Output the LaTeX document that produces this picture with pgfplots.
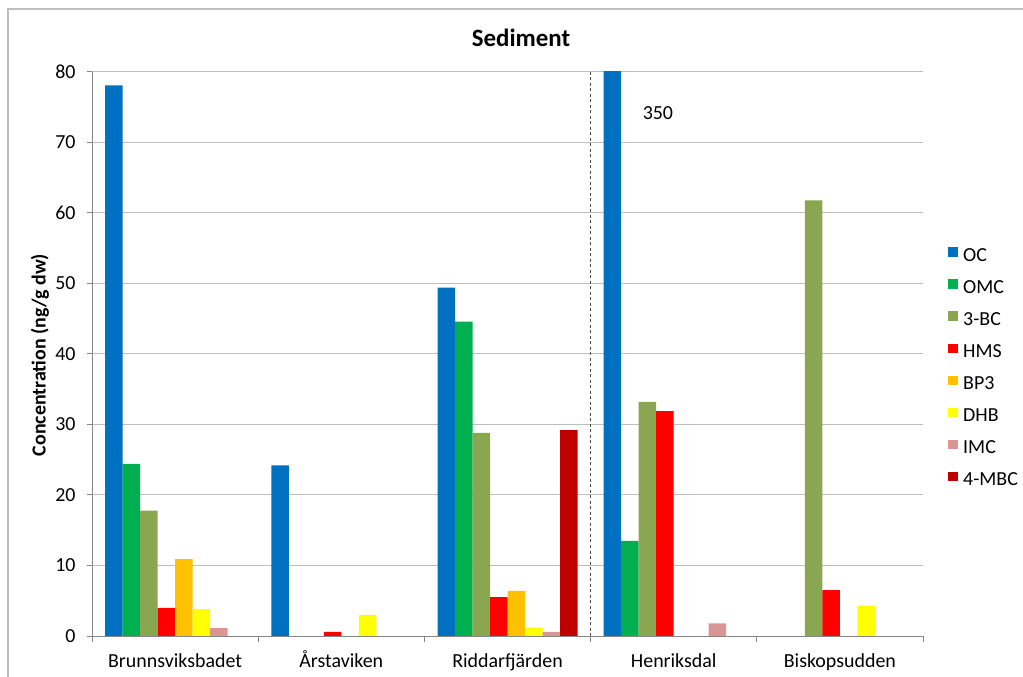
\documentclass[border=0pt]{standalone}
\usepackage{fontspec}
\setmainfont{Carlito}
\usepackage{pgfplots}
\usepackage{pgfplotstable}
\pgfplotsset{compat=1.18}

\definecolor{cOC}{HTML}{0070C0}
\definecolor{cOMC}{HTML}{00B050}
\definecolor{cBC}{HTML}{8BA650}
\definecolor{cHMS}{HTML}{FF0000}
\definecolor{cBP}{HTML}{FFC000}
\definecolor{cDHB}{HTML}{FFFF00}
\definecolor{cIMC}{HTML}{D99694}
\definecolor{cMBC}{HTML}{C00000}
\definecolor{gridc}{HTML}{BEBEBE}
\definecolor{axisc}{HTML}{868686}

% concentrations (ng/g dw) per site; 0 = not detected
\pgfplotstableread{
x OC OMC BC HMS BP DHB IMC MBC
0 78.1 24.4 17.8 4.0 10.9 3.8 1.1 0
1 24.2 0 0 0.6 0 3.0 0 0
2 49.4 44.6 28.8 5.5 6.4 1.2 0.6 29.2
3 350 13.5 33.2 31.9 0 0 1.8 0
4 0 0 61.8 6.5 0 4.3 0 0
}\sediment

\begin{document}
\begin{tikzpicture}
\path[use as bounding box] (0bp,0bp) rectangle (1023bp,677bp);
% chart frame
\draw[gridc, line width=1.2bp] (8bp,0bp) -- (8bp,668bp) -- (1023bp,668bp);
\node[font=\fontsize{25}{28}\selectfont\bfseries] at (521bp,639bp) {Sediment};
\node[rotate=90, font=\fontsize{20}{24}\selectfont\bfseries] at (40bp,322bp) {Concentration (ng/g dw)};
\begin{axis}[
  at={(92bp,41bp)}, anchor=south west,
  scale only axis, width=831bp, height=564bp,
  ybar=0pt, bar width=17.5bp,
  xmin=-0.5, xmax=4.5, ymin=0, ymax=80,
  ytick={0,10,...,80},
  xtick={0,...,4},
  xticklabels={Brunnsviksbadet, Årstaviken, Riddarfjärden, Henriksdal, Biskopsudden},
  minor xtick={-0.5,0.5,...,4.5},
  axis x line*=bottom, axis y line*=left,
  axis line style={axisc, line width=1bp},
  x axis line style={-}, y axis line style={-},
  ymajorgrids, grid style={gridc, line width=1bp},
  major x tick style={draw=none},
  minor x tick style={axisc, line width=1bp},
  major y tick style={axisc, line width=1bp},
  tick align=outside,
  major tick length=5bp, minor tick length=6bp,
  /pgf/number format/assume math mode=true,
  ticklabel style={font=\fontsize{20}{24}\selectfont},
  xticklabel style={yshift=-11bp, text height=12bp, text depth=4bp},
  yticklabel style={xshift=-8bp},
  legend style={at={(1.0301,0.6897)}, anchor=north west, draw=none, fill=none,
    inner sep=0pt, row sep=13.1bp, column sep=5.5bp,
    font=\fontsize{20}{24}\selectfont,
    nodes={inner sep=0pt, text height=14bp, text depth=5bp}},
  legend cell align=left,
  legend image code/.code={\fill[#1, draw=none] (0bp,0bp) rectangle (9.5bp,9.5bp);},
  clip=true,
]
\addplot[fill=cOC, draw=none] table[x=x, y=OC] {\sediment};
\addplot[fill=cOMC, draw=none] table[x=x, y=OMC] {\sediment};
\addplot[fill=cBC, draw=none] table[x=x, y=BC] {\sediment};
\addplot[fill=cHMS, draw=none] table[x=x, y=HMS] {\sediment};
\addplot[fill=cBP, draw=none] table[x=x, y=BP] {\sediment};
\addplot[fill=cDHB, draw=none] table[x=x, y=DHB] {\sediment};
\addplot[fill=cIMC, draw=none] table[x=x, y=IMC] {\sediment};
\addplot[fill=cMBC, draw=none] table[x=x, y=MBC] {\sediment};
\legend{OC, OMC, 3-BC, HMS, BP3, DHB, IMC, 4-MBC}
% off-scale value of the Henriksdal OC bar
\node[font=\fontsize{20}{24}\selectfont] at (axis cs:2.905,74.2) {350};
% separator between the two site groups
\draw[black!70, line width=1bp, dash pattern=on 3bp off 2.5bp]
  (axis cs:2.5,80) -- ([yshift=-41bp]axis cs:2.5,0);
\end{axis}
\end{tikzpicture}
\end{document}
